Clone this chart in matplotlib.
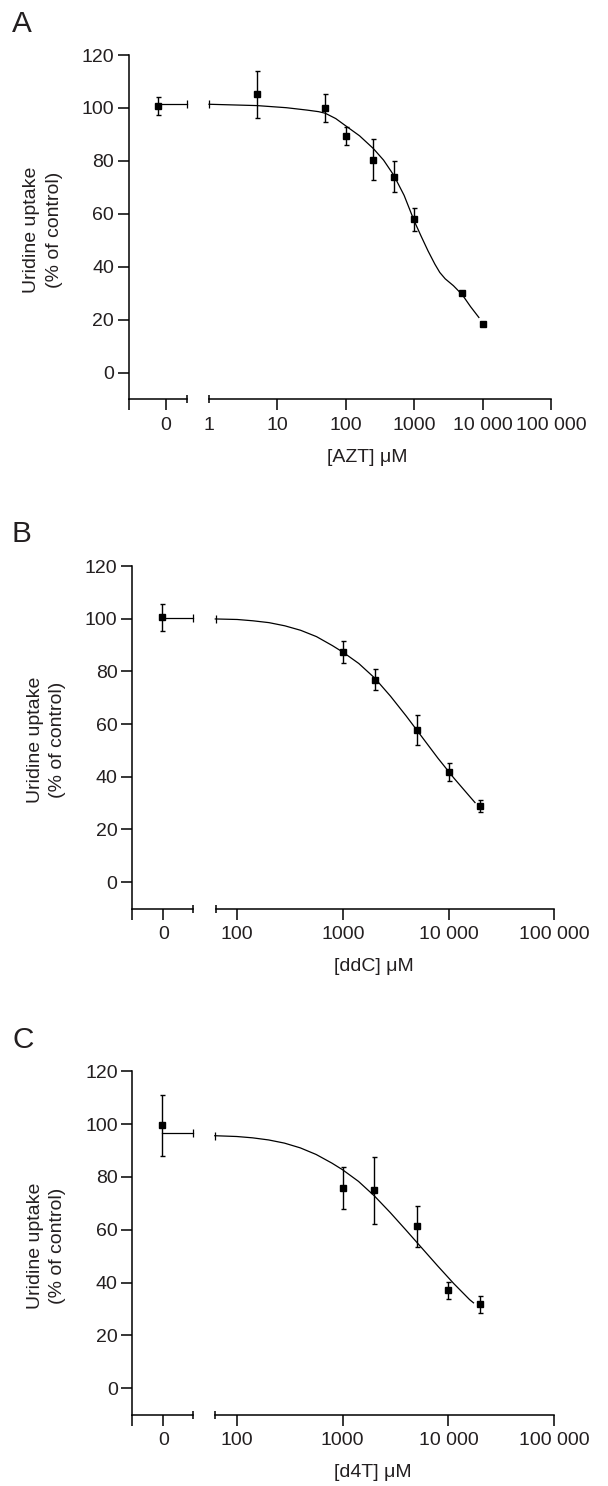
import matplotlib
matplotlib.use('Agg')
import matplotlib.pyplot as plt

plt.rcParams['font.family'] = ['Liberation Sans', 'DejaVu Sans']
TXT = '#231f20'
W, H = 608, 1486

# ---- panel A : AZT ----
azt_ctrl = (-0.21, 100.8, 3.3)          # x in the "0" segment, mean, sd
azt_top = 101.4                          # fitted top plateau
azt_conc = [5, 50, 100, 250, 500, 1000, 5000, 10000]
azt_uptake = [105.1, 100.0, 89.5, 80.4, 74.0, 57.9, 30.0, 18.4]
azt_err = [8.9, 5.4, 3.3, 7.7, 5.8, 4.5, 0, 0]
azt_fit_x = [1, 5, 13.5, 27, 40, 50, 71, 100, 158, 251, 355, 500, 708, 1000,
             1259, 1585, 1995, 2350, 2818, 3715, 5000, 6607, 8750]
azt_fit_y = [101.4, 100.9, 100.1, 99.2, 98.6, 98.0, 96.0, 93.2, 89.5, 84.7, 80.3,
             74.6, 67.0, 57.2, 51.5, 46.0, 41.0, 37.9, 35.5, 32.9, 29.5, 25.0, 20.9]
azt_ticks = [1, 10, 100, 1000, 10000, 100000]
azt_labels = ['1', '10', '100', '1000', '10 000', '100 000']

# ---- panel B : ddC ----
ddc_ctrl = (-0.05, 100.5, 5.0)
ddc_top = 100.4
ddc_conc = [1000, 2000, 5000, 10000, 20000]
ddc_uptake = [87.2, 76.9, 57.7, 41.8, 28.9]
ddc_err = [4.2, 4.0, 5.7, 3.4, 2.4]
ddc_fit_x = [62, 100, 141, 200, 282, 398, 562, 794, 1000, 1413, 1995, 2818,
             3981, 5623, 7943, 11220, 15850, 17780]
ddc_fit_y = [99.9, 99.7, 99.2, 98.5, 97.3, 95.6, 93.2, 89.8, 87.3, 83.0, 77.5,
             70.6, 63.0, 55.0, 47.0, 39.5, 32.5, 30.2]

# ---- panel C : d4T ----
d4t_ctrl = (-0.05, 99.5, 11.7)
d4t_top = 96.5
d4t_conc = [1000, 2000, 5000, 10000, 20000]
d4t_uptake = [75.7, 74.9, 61.3, 37.0, 31.8]
d4t_err = [7.9, 12.6, 7.7, 3.2, 3.2]
d4t_fit_x = [62, 100, 141, 200, 282, 398, 562, 794, 1000, 1413, 1995, 2818,
             3981, 5623, 7943, 11220, 15850, 17250]
d4t_fit_y = [95.6, 95.3, 94.8, 94.0, 92.8, 91.0, 88.5, 85.2, 82.7, 78.3, 72.8,
             66.5, 59.8, 53.0, 46.2, 39.6, 33.5, 32.3]

big_ticks = [100, 1000, 10000, 100000]
big_labels = ['100', '1000', '10 000', '100 000']


def px_axes(fig, l, t, r, b):
    return fig.add_axes([l / W, 1 - b / H, (r - l) / W, (b - t) / H])


def draw_panel(fig, letter, drug, top, bot, yax, brk, rstart, rend, xlo, zero_frac,
               ctrl, ctop, conc, upt, err, fx, fy, ticks, labels, hide_first):
    # left "0" segment
    axl = px_axes(fig, yax, top, brk, bot)
    xr = 1 / zero_frac - 1
    axl.set_xlim(-1, xr)
    axl.set_ylim(-10, 120)
    for s in ['top', 'right']:
        axl.spines[s].set_visible(False)
    axl.spines['left'].set_linewidth(1.1)
    axl.spines['bottom'].set_linewidth(1.1)
    axl.set_yticks(range(0, 121, 20))
    axl.set_xticks([-1, 0])
    axl.set_xticklabels(['', '0'])
    axl.tick_params(axis='y', length=8, width=1.1, pad=2.5, labelsize=14, labelcolor=TXT)
    axl.tick_params(axis='x', length=7.7, width=1.1, pad=5, labelsize=14, labelcolor=TXT)
    axl.plot([xr], [-10], marker='|', ms=6.3, mew=1.1, color='k', clip_on=False)
    axl.plot([ctrl[0], xr], [ctop, ctop], color='k', lw=0.9, clip_on=False)
    axl.plot([xr], [ctop], marker='|', ms=5.5, mew=0.9, color='k', clip_on=False)
    axl.errorbar([ctrl[0]], [ctrl[1]], yerr=[ctrl[2]], fmt='s', ms=5, color='k',
                 elinewidth=1, capsize=1.8, capthick=1, clip_on=False)

    # right log segment
    axr = px_axes(fig, rstart, top, rend, bot)
    axr.set_xscale('log')
    axr.set_xlim(xlo, 1e5)
    axr.set_ylim(-10, 120)
    for s in ['top', 'right', 'left']:
        axr.spines[s].set_visible(False)
    axr.spines['bottom'].set_linewidth(1.1)
    axr.set_yticks([])
    axr.set_xticks(ticks)
    axr.set_xticklabels(labels)
    axr.xaxis.set_minor_locator(matplotlib.ticker.NullLocator())
    axr.tick_params(axis='x', length=7.7, width=1.1, pad=5, labelsize=14, labelcolor=TXT)
    if hide_first:
        axr.xaxis.get_major_ticks()[0].tick1line.set_visible(False)
    axr.plot([xlo], [-10], marker='|', ms=6.3, mew=1.1, color='k', clip_on=False)
    axr.plot(fx, fy, color='k', lw=0.9, clip_on=False)
    axr.plot([xlo], [fy[0]], marker='|', ms=5.5, mew=0.9, color='k', clip_on=False)
    axr.errorbar(conc, upt, yerr=err, fmt='s', ms=5, color='k',
                 elinewidth=1, capsize=1.8, capthick=1, clip_on=False)

    # texts
    fig.text(12 / W, 1 - (top - 23.5) / H, letter, fontsize=21.4, color=TXT,
             ha='left', va='baseline')
    ymid = (top + bot) / 2 + 3
    fig.text((yax - 85.6) / W, 1 - ymid / H, 'Uridine uptake\n(% of control)',
             rotation=90, fontsize=14, color=TXT, ha='center', va='center',
             multialignment='center', linespacing=1.4)
    fig.text((rstart + 158) / W, 1 - (bot + 58) / H, '[' + drug + '] μM',
             fontsize=14, color=TXT, ha='center', va='center')


fig = plt.figure(figsize=(W / 100, H / 100), dpi=100)

draw_panel(fig, 'A', 'AZT', 55, 399.3, 128.7, 187.3, 209, 551.3, 1, 37.3 / 58.6,
           azt_ctrl, azt_top, azt_conc, azt_uptake, azt_err, azt_fit_x, azt_fit_y,
           azt_ticks, azt_labels, True)
draw_panel(fig, 'B', 'ddC', 566, 908.5, 132, 193.4, 215.5, 554.3, 62.3, 31.3 / 61.4,
           ddc_ctrl, ddc_top, ddc_conc, ddc_uptake, ddc_err, ddc_fit_x, ddc_fit_y,
           big_ticks, big_labels, False)
draw_panel(fig, 'C', 'd4T', 1071.3, 1414.5, 132.3, 193.3, 215, 554.3, 62.3, 31 / 61,
           d4t_ctrl, d4t_top, d4t_conc, d4t_uptake, d4t_err, d4t_fit_x, d4t_fit_y,
           big_ticks, big_labels, False)

fig.savefig('out.png', dpi=100, facecolor='white')
